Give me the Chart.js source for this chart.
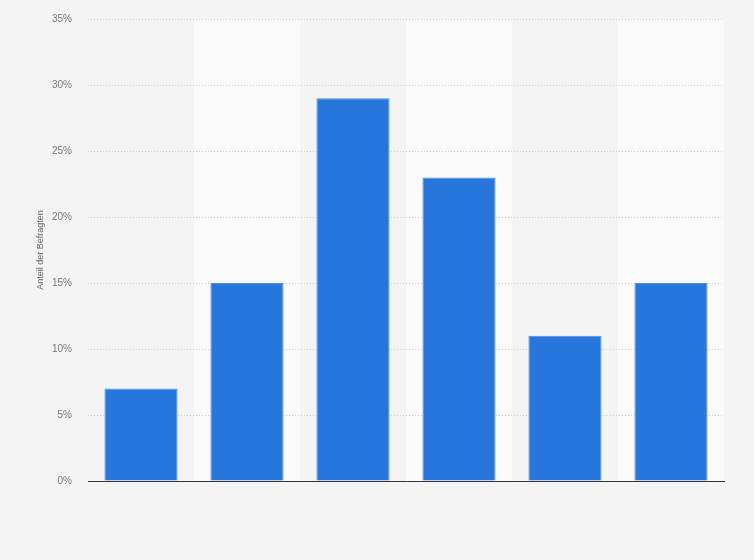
<!DOCTYPE html>
<html>
<head>
<meta charset="utf-8">
<script src="https://cdn.jsdelivr.net/npm/chart.js@4"></script>
<style>
  html, body { margin: 0; padding: 0; background: #f4f4f4; }
  #wrap { width: 754px; height: 560px; }
</style>
</head>
<body>
<div id="wrap"><canvas id="chart"></canvas></div>
<script>
// Daten
const categories = ['1', '2', '3', '4', '5', '6'];
const shares = [7, 15, 29, 23, 11, 15];
const yTicks = [0, 5, 10, 15, 20, 25, 30, 35];

// abwechselnde Hintergrundstreifen je Kategorie, unter dem Gitter
const bandPlugin = {
  id: 'bands',
  beforeDraw(chart) {
    const { ctx, chartArea, scales } = chart;
    const x = scales.x;
    const step = x.getPixelForValue(1) - x.getPixelForValue(0);
    ctx.save();
    categories.forEach((c, i) => {
      if (i % 2 === 1) {
        const cx = x.getPixelForValue(i);
        ctx.fillStyle = '#fafafa';
        ctx.fillRect(cx - step / 2, chartArea.top, step, chartArea.bottom - chartArea.top);
      }
    });
    ctx.restore();
  }
};

new Chart(document.getElementById('chart'), {
  type: 'bar',
  data: {
    labels: categories,
    datasets: [{
      data: shares,
      backgroundColor: '#2776db',
      borderColor: '#4d8de2',
      borderWidth: 1,
      barPercentage: 0.69,
      categoryPercentage: 1
    }]
  },
  options: {
    responsive: true,
    maintainAspectRatio: false,
    animation: false,
    layout: { padding: { top: 19, right: 30, bottom: 79, left: 0 } },
    plugins: {
      legend: { display: false },
      tooltip: { enabled: false }
    },
    scales: {
      x: {
        ticks: { display: false },
        grid: { display: false, drawTicks: false },
        border: { display: true, color: '#333333', width: 1 }
      },
      y: {
        min: 0,
        max: 35,
        afterBuildTicks: axis => { axis.ticks = yTicks.map(v => ({ value: v })); },
        afterFit: axis => {
          axis.width = 88;
          axis.paddingTop = 0;
          axis.paddingBottom = 0;
        },
        ticks: {
          padding: 16,
          color: '#777777',
          font: { family: 'Liberation Sans', size: 10 },
          callback: v => v + '%'
        },
        grid: {
          drawTicks: false,
          color: ctx => ctx.tick && ctx.tick.value === 0 ? 'rgba(0,0,0,0)' : '#cfcfcf',
          lineWidth: 1
        },
        border: { display: false, dash: [1, 2] },
        title: {
          display: true,
          text: 'Anteil der Befragten',
          color: '#666666',
          font: { family: 'Liberation Sans', size: 9 },
          padding: { top: 35, bottom: 0 }
        }
      }
    }
  },
  plugins: [bandPlugin]
});
</script>
</body>
</html>
